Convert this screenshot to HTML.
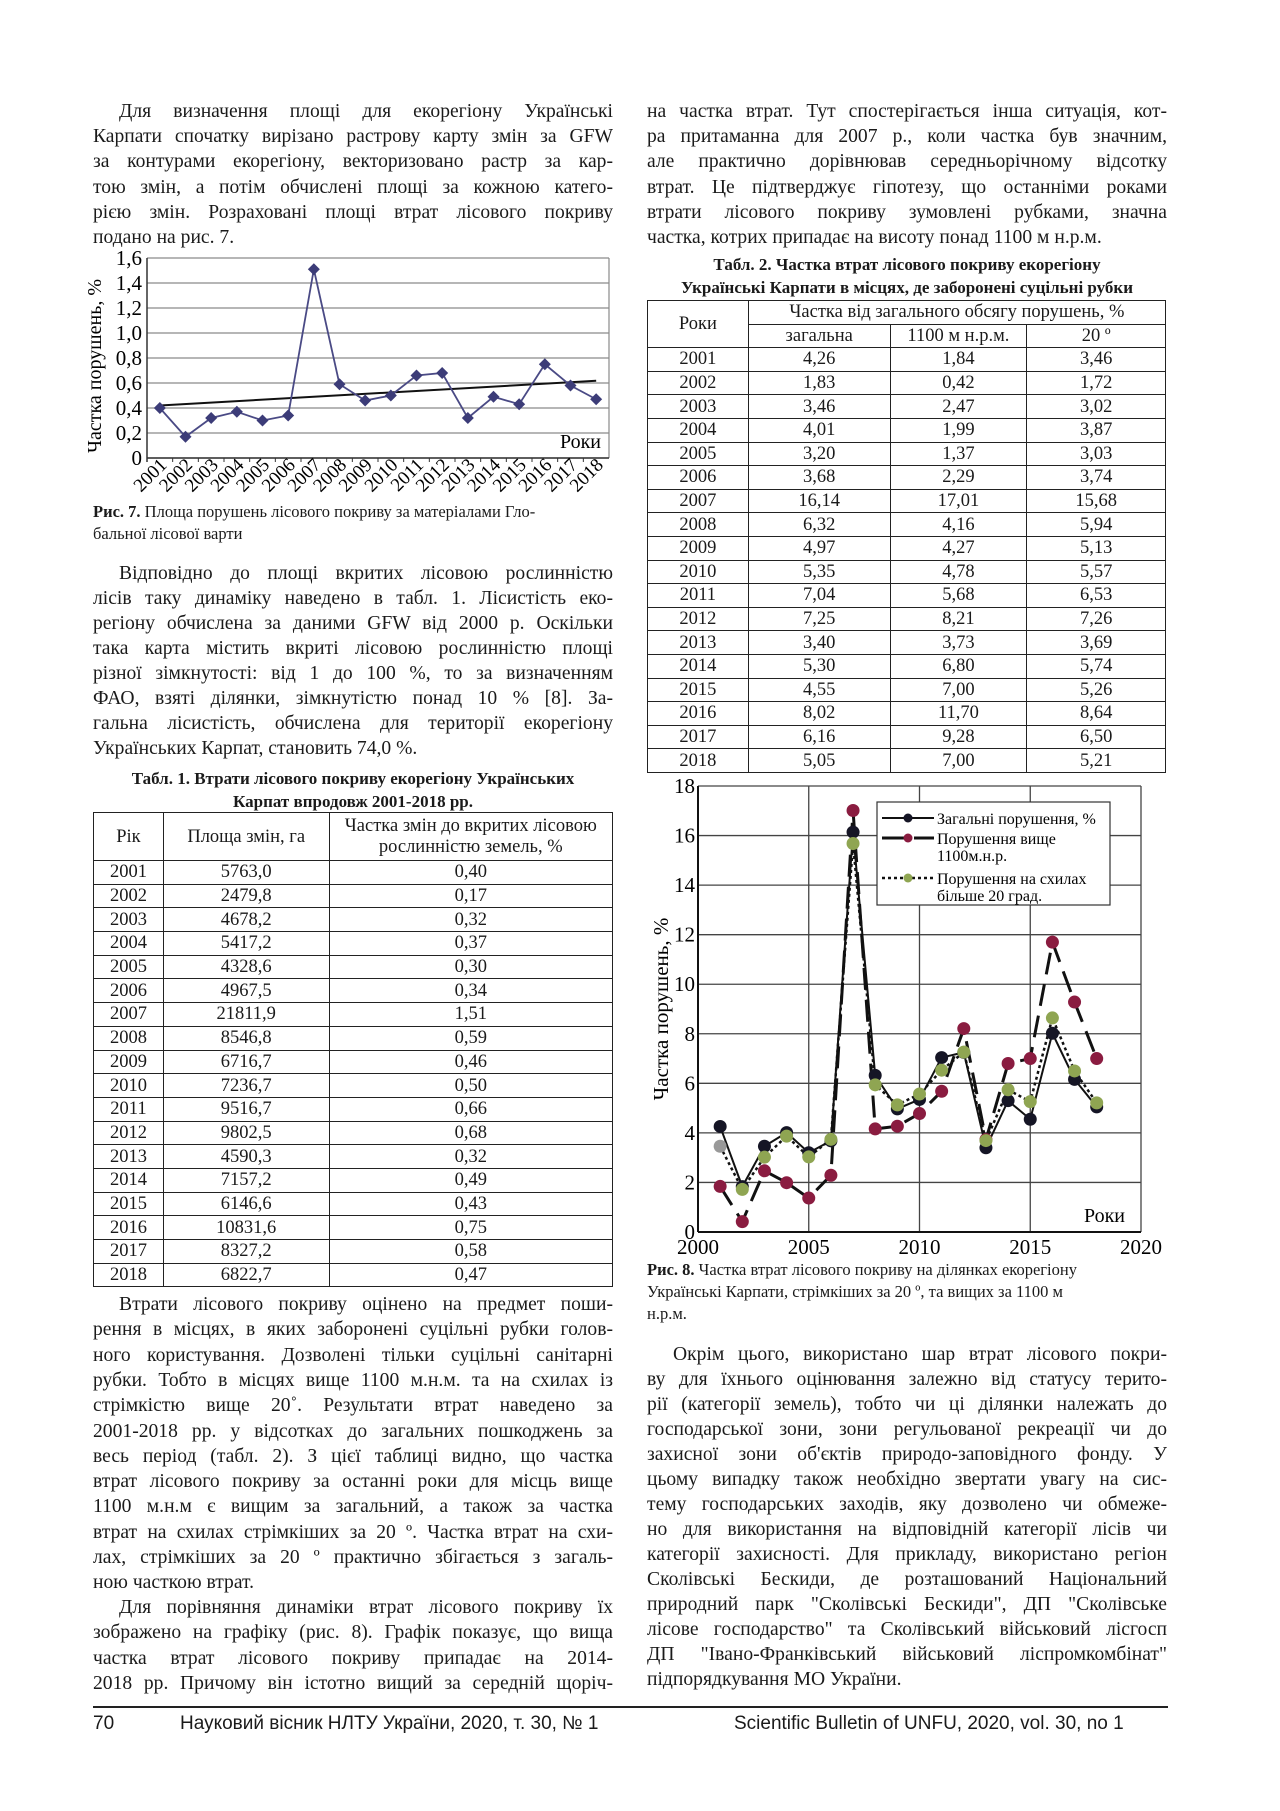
<!DOCTYPE html>
<html><head><meta charset="utf-8">
<style>
body{margin:0;background:#fff;}
#page{position:relative;width:1280px;height:1811px;overflow:hidden;background:#fff;font-family:"Liberation Serif","DejaVu Serif",serif;color:#1a1a1a;}
.ln{position:absolute;width:520px;font-size:19.6px;line-height:25px;height:25px;text-align:justify;text-align-last:justify;white-space:nowrap;}
.ln.l{text-align-last:left;}
.ln.i{text-indent:26px;}
.cap{position:absolute;font-size:16.5px;line-height:22px;white-space:nowrap;}
.tt{position:absolute;width:520px;text-align:center;font-weight:bold;font-size:17px;line-height:23px;white-space:nowrap;}
table{position:absolute;border-collapse:collapse;font-size:18.5px;}
td{border:1.3px solid #222;text-align:center;padding:0;line-height:20px;}
.ft{position:absolute;font-family:"Liberation Sans",sans-serif;font-size:19px;top:1713px;}
</style></head><body>
<div id="page">

<div>
<div class="ln i" style="left:93px;top:99px">Для визначення площі для екорегіону Українські</div>
<div class="ln" style="left:93px;top:124px">Карпати спочатку вирізано растрову карту змін за GFW</div>
<div class="ln" style="left:93px;top:149px">за контурами екорегіону, векторизовано растр за кар-</div>
<div class="ln" style="left:93px;top:175px">тою змін, а потім обчислені площі за кожною катего-</div>
<div class="ln" style="left:93px;top:200px">рією змін. Розраховані площі втрат лісового покриву</div>
<div class="ln l" style="left:93px;top:225px">подано на рис. 7.</div>
</div>

<svg id="chart1" style="position:absolute;left:80px;top:245px" width="560" height="260"></svg>

<div class="cap" style="left:93px;top:501px"><b>Рис. 7.</b> Площа порушень лісового покриву за матеріалами Гло-<br>бальної лісової варти</div>

<div>
<div class="ln i" style="left:93px;top:561px">Відповідно до площі вкритих лісовою рослинністю</div>
<div class="ln" style="left:93px;top:586px">лісів таку динаміку наведено в табл. 1. Лісистість еко-</div>
<div class="ln" style="left:93px;top:611px">регіону обчислена за даними GFW від 2000 р. Оскільки</div>
<div class="ln" style="left:93px;top:636px">така карта містить вкриті лісовою рослинністю площі</div>
<div class="ln" style="left:93px;top:661px">різної зімкнутості: від 1 до 100 %, то за визначенням</div>
<div class="ln" style="left:93px;top:686px">ФАО, взяті ділянки, зімкнутістю понад 10 % [8]. За-</div>
<div class="ln" style="left:93px;top:711px">гальна лісистість, обчислена для території екорегіону</div>
<div class="ln l" style="left:93px;top:736px">Українських Карпат, становить 74,0 %.</div>
</div>

<div class="tt" style="left:93px;top:767px">Табл. 1. Втрати лісового покриву екорегіону Українських<br>Карпат впродовж 2001-2018 рр.</div>
<table id="t1" style="left:93px;top:812px;width:520px">
<colgroup><col style="width:70px"><col style="width:166px"><col style="width:284px"></colgroup>
<tr style="height:48px"><td>Рік</td><td>Площа змін, га</td><td style="line-height:21px">Частка змін до вкритих лісовою<br>рослинністю земель, %</td></tr>
</table>

<div>
<div class="ln i" style="left:93px;top:1292px">Втрати лісового покриву оцінено на предмет поши-</div>
<div class="ln" style="left:93px;top:1317px">рення в місцях, в яких заборонені суцільні рубки голов-</div>
<div class="ln" style="left:93px;top:1343px">ного користування. Дозволені тільки суцільні санітарні</div>
<div class="ln" style="left:93px;top:1368px">рубки. Тобто в місцях вище 1100 м.н.м. та на схилах із</div>
<div class="ln" style="left:93px;top:1393px">стрімкістю вище 20˚. Результати втрат наведено за</div>
<div class="ln" style="left:93px;top:1419px">2001-2018 рр. у відсотках до загальних пошкоджень за</div>
<div class="ln" style="left:93px;top:1444px">весь період (табл. 2). З цієї таблиці видно, що частка</div>
<div class="ln" style="left:93px;top:1469px">втрат лісового покриву за останні роки для місць вище</div>
<div class="ln" style="left:93px;top:1494px">1100 м.н.м є вищим за загальний, а також за частка</div>
<div class="ln" style="left:93px;top:1520px">втрат на схилах стрімкіших за 20 º. Частка втрат на схи-</div>
<div class="ln" style="left:93px;top:1545px">лах, стрімкіших за 20 º практично збігається з загаль-</div>
<div class="ln l" style="left:93px;top:1570px">ною часткою втрат.</div>
</div>
<div>
<div class="ln i" style="left:93px;top:1595px">Для порівняння динаміки втрат лісового покриву їх</div>
<div class="ln" style="left:93px;top:1620px">зображено на графіку (рис. 8). Графік показує, що вища</div>
<div class="ln" style="left:93px;top:1646px">частка втрат лісового покриву припадає на 2014-</div>
<div class="ln" style="left:93px;top:1671px">2018 рр. Причому він істотно вищий за середній щоріч-</div>
</div>

<div>
<div class="ln" style="left:647px;top:99px">на частка втрат. Тут спостерігається інша ситуація, кот-</div>
<div class="ln" style="left:647px;top:124px">ра притаманна для 2007 р., коли частка був значним,</div>
<div class="ln" style="left:647px;top:149px">але практично дорівнював середньорічному відсотку</div>
<div class="ln" style="left:647px;top:175px">втрат. Це підтверджує гіпотезу, що останніми роками</div>
<div class="ln" style="left:647px;top:200px">втрати лісового покриву зумовлені рубками, значна</div>
<div class="ln l" style="left:647px;top:225px">частка, котрих припадає на висоту понад 1100 м н.р.м.</div>
</div>

<div class="tt" style="left:647px;top:253px">Табл. 2. Частка втрат лісового покриву екорегіону<br>Українські Карпати в місцях, де заборонені суцільні рубки</div>
<table id="t2" style="left:647px;top:300px;width:519px">
<colgroup><col style="width:101px"><col style="width:142px"><col style="width:137px"><col style="width:139px"></colgroup>
<tr style="height:23.6px"><td rowspan="2">Роки</td><td colspan="3">Частка від загального обсягу порушень, %</td></tr>
<tr style="height:23.6px"><td>загальна</td><td>1100 м н.р.м.</td><td>20 º</td></tr>
</table>

<svg id="chart2" style="position:absolute;left:640px;top:772px" width="540" height="490"></svg>

<div class="cap" style="left:647px;top:1259px"><b>Рис. 8.</b> Частка втрат лісового покриву на ділянках екорегіону<br>Українські Карпати, стрімкіших за 20 º, та вищих за 1100 м<br>н.р.м.</div>

<div>
<div class="ln i" style="left:647px;top:1342px">Окрім цього, використано шар втрат лісового покри-</div>
<div class="ln" style="left:647px;top:1367px">ву для їхнього оцінювання залежно від статусу терито-</div>
<div class="ln" style="left:647px;top:1392px">рії (категорії земель), тобто чи ці ділянки належать до</div>
<div class="ln" style="left:647px;top:1417px">господарської зони, зони регульованої рекреації чи до</div>
<div class="ln" style="left:647px;top:1442px">захисної зони об'єктів природо-заповідного фонду. У</div>
<div class="ln" style="left:647px;top:1467px">цьому випадку також необхідно звертати увагу на сис-</div>
<div class="ln" style="left:647px;top:1492px">тему господарських заходів, яку дозволено чи обмеже-</div>
<div class="ln" style="left:647px;top:1517px">но для використання на відповідній категорії лісів чи</div>
<div class="ln" style="left:647px;top:1542px">категорії захисності. Для прикладу, використано регіон</div>
<div class="ln" style="left:647px;top:1567px">Сколівські Бескиди, де розташований Національний</div>
<div class="ln" style="left:647px;top:1592px">природний парк "Сколівські Бескиди", ДП "Сколівське</div>
<div class="ln" style="left:647px;top:1617px">лісове господарство" та Сколівський військовий лісгосп</div>
<div class="ln" style="left:647px;top:1642px">ДП "Івано-Франківський військовий ліспромкомбінат"</div>
<div class="ln l" style="left:647px;top:1667px">підпорядкування МО України.</div>
</div>

<div style="position:absolute;left:93px;top:1706px;width:1075px;height:1.5px;background:#222"></div>
<div class="ft" style="left:93px">70</div>
<div class="ft" style="left:180px">Науковий вісник НЛТУ України, 2020, т. 30, № 1</div>
<div class="ft" style="left:734px">Scientific Bulletin of UNFU, 2020, vol. 30, no 1</div>
</div>

<script>
const years = [2001,2002,2003,2004,2005,2006,2007,2008,2009,2010,2011,2012,2013,2014,2015,2016,2017,2018];
const areaHa = ["5763,0","2479,8","4678,2","5417,2","4328,6","4967,5","21811,9","8546,8","6716,7","7236,7","9516,7","9802,5","4590,3","7157,2","6146,6","10831,6","8327,2","6822,7"];
const shareFig7 = [0.40,0.17,0.32,0.37,0.30,0.34,1.51,0.59,0.46,0.50,0.66,0.68,0.32,0.49,0.43,0.75,0.58,0.47];
const totalLoss = [4.26,1.83,3.46,4.01,3.20,3.68,16.14,6.32,4.97,5.35,7.04,7.25,3.40,5.30,4.55,8.02,6.16,5.05];
const above1100 = [1.84,0.42,2.47,1.99,1.37,2.29,17.01,4.16,4.27,4.78,5.68,8.21,3.73,6.80,7.00,11.70,9.28,7.00];
const slope20 = [3.46,1.72,3.02,3.87,3.03,3.74,15.68,5.94,5.13,5.57,6.53,7.26,3.69,5.74,5.26,8.64,6.50,5.21];
const yTicks1 = [0,0.2,0.4,0.6,0.8,1.0,1.2,1.4,1.6];
const yTicks2 = [0,2,4,6,8,10,12,14,16,18];
const xTicks2 = [2000,2005,2010,2015,2020];
const fmt = v => v.toFixed(2).replace('.',',');

const t1 = document.getElementById('t1');
years.forEach((y,i)=>{
  const tr=document.createElement('tr');
  
  
  tr.style.height='23.7px';
  tr.innerHTML=`<td>${y}</td><td>${areaHa[i]}</td><td>${fmt(shareFig7[i])}</td>`;
  t1.appendChild(tr);
});
const t2 = document.getElementById('t2');
years.forEach((y,i)=>{
  const tr=document.createElement('tr');
  
  
  tr.style.height='23.6px';
  tr.innerHTML=`<td>${y}</td><td>${fmt(totalLoss[i])}</td><td>${fmt(above1100[i])}</td><td>${fmt(slope20[i])}</td>`;
  t2.appendChild(tr);
});

const NS='http://www.w3.org/2000/svg';
function el(p,tag,attrs,txt){const e=document.createElementNS(NS,tag);for(const k in attrs)e.setAttribute(k,attrs[k]);if(txt!==undefined)e.textContent=txt;p.appendChild(e);return e;}

(function(){
  const s=document.getElementById('chart1');
  const L=67,R=529,T=13,B=213;
  const x=i=>L+(i+0.5)*(R-L)/years.length;
  const y=v=>B-(v/1.6)*(B-T);
  yTicks1.forEach(v=>{
    const g=el(s,'line',{x1:L,x2:R,y1:y(v),y2:y(v),stroke:'#8a8a8a','stroke-width':1.2});
    
    
    const t=el(s,'text',{x:L-5,y:y(v)+7,'text-anchor':'end','font-size':21,'font-family':'Liberation Serif'},v===0?'0':v.toFixed(1).replace('.',','));
    
    
  });
  el(s,'line',{x1:R,x2:R,y1:T,y2:B,stroke:'#8a8a8a','stroke-width':1.2});
  el(s,'line',{x1:L,x2:L,y1:T,y2:B+4,stroke:'#333','stroke-width':1.5});
  el(s,'line',{x1:L,x2:R,y1:B,y2:B,stroke:'#333','stroke-width':1.5});
  years.forEach((yr,i)=>{
    const tx=L+i*(R-L)/years.length;
    el(s,'line',{x1:tx,x2:tx,y1:B,y2:B+4,stroke:'#333'});
    const t=el(s,'text',{transform:`translate(${x(i)+8},${B+8}) rotate(-45)`,'text-anchor':'end','font-size':19,'font-family':'Liberation Serif'},yr);
    
    
  });
  const yt=el(s,'text',{transform:`translate(${L-46},${(T+B)/2+8}) rotate(-90)`,'text-anchor':'middle','font-size':20,'font-family':'Liberation Serif'},'Частка порушень, %');
  
  
  const xt=el(s,'text',{x:R-8,y:B-10,'text-anchor':'end','font-size':20,'font-family':'Liberation Serif'},'Роки');
  
  
  const n=shareFig7.length;let sx=0,sy=0,sxx=0,sxy=0;
  shareFig7.forEach((v,i)=>{sx+=i;sy+=v;sxx+=i*i;sxy+=i*v;});
  const b=(n*sxy-sx*sy)/(n*sxx-sx*sx),a=(sy-b*sx)/n;
  const tr=el(s,'line',{x1:x(0),y1:y(a),x2:x(n-1),y2:y(a+b*(n-1)),stroke:'#111','stroke-width':2});
  
  
  const pl=el(s,'polyline',{points:shareFig7.map((v,i)=>x(i)+','+y(v)).join(' '),fill:'none',stroke:'#4a4a85','stroke-width':1.8});
  
  
  shareFig7.forEach((v,i)=>{
    const m=el(s,'polygon',{points:`${x(i)},${y(v)-6} ${x(i)+6},${y(v)} ${x(i)},${y(v)+6} ${x(i)-6},${y(v)}`,fill:'#3c3c78'});
    
    
  });
})();

(function(){
  const s=document.getElementById('chart2');
  const L=58,R=501,T=14,B=460;
  const x=v=>L+(v-2000)/20*(R-L);
  const y=v=>B-v/18*(B-T);
  yTicks2.forEach(v=>{
    const g=el(s,'line',{x1:L,x2:R,y1:y(v),y2:y(v),stroke:'#444','stroke-width':1.3});
    
    
    const t=el(s,'text',{x:L-3,y:y(v)+7,'text-anchor':'end','font-size':21,'font-family':'Liberation Serif'},v);
    
    
  });
  xTicks2.forEach(v=>{
    el(s,'line',{x1:x(v),x2:x(v),y1:T,y2:B,stroke:'#444','stroke-width':1.3});
    const t=el(s,'text',{x:x(v),y:B+22,'text-anchor':'middle','font-size':21,'font-family':'Liberation Serif'},v);
    
    
  });
  el(s,'line',{x1:L,x2:R,y1:B,y2:B,stroke:'#111','stroke-width':2});
  el(s,'line',{x1:L,x2:L,y1:T,y2:B,stroke:'#111','stroke-width':2});
  const yt=el(s,'text',{transform:`translate(${L-30},${(T+B)/2}) rotate(-90)`,'text-anchor':'middle','font-size':21,'font-family':'Liberation Serif'},'Частка порушень, %');
  
  
  const xt=el(s,'text',{x:R-16,y:B-10,'text-anchor':'end','font-size':20,'font-family':'Liberation Serif'},'Роки');
  
  
  const series=[
    {d:above1100,dash:'22,10',w:3,c:'#8a1c40',name:'series-above-1100m'},
    {d:slope20,dash:'3,3',w:2.5,c:'#8fa552',name:'series-slope-20deg'},
    {d:totalLoss,dash:'',w:2,c:'#151525',name:'series-total'}
  ];
  series.forEach(se=>{
    const pl=el(s,'polyline',{points:se.d.map((v,i)=>x(years[i])+','+y(v)).join(' '),fill:'none',stroke:'#111','stroke-width':se.w,'stroke-dasharray':se.dash});
    
    
  });
  [series[2],series[0],series[1]].forEach(se=>{
    se.d.forEach((v,i)=>{
      const c=el(s,'circle',{cx:x(years[i]),cy:y(v),r:6.5,fill:(se===series[1]&&i===0)?'#999':se.c});
      
      
    });
  });
  const lg=el(s,'g',{});
  
  
  el(lg,'rect',{x:237,y:30,width:233,height:103,fill:'#fff',stroke:'#333','stroke-width':1.2});
  const items=[['Загальні порушення, %',null,series[2],46],['Порушення вище','1100м.н.р.',series[0],66],['Порушення на схилах','більше 20 град.',series[1],106]];
  items.forEach(it=>{
    const se=it[2],yy=it[3];
    el(lg,'line',{x1:242,x2:294,y1:yy,y2:yy,stroke:'#111','stroke-width':se.w,'stroke-dasharray':se.dash});
    el(lg,'circle',{cx:268,cy:yy,r:4.5,fill:se.c});
    const t=el(lg,'text',{x:297,y:yy+6,'font-size':16,'font-family':'Liberation Serif'},it[0]);
    
    
    if(it[1]){el(lg,'text',{x:297,y:yy+23,'font-size':16,'font-family':'Liberation Serif'},it[1]);}
  });
})();
</script>
</body></html>
